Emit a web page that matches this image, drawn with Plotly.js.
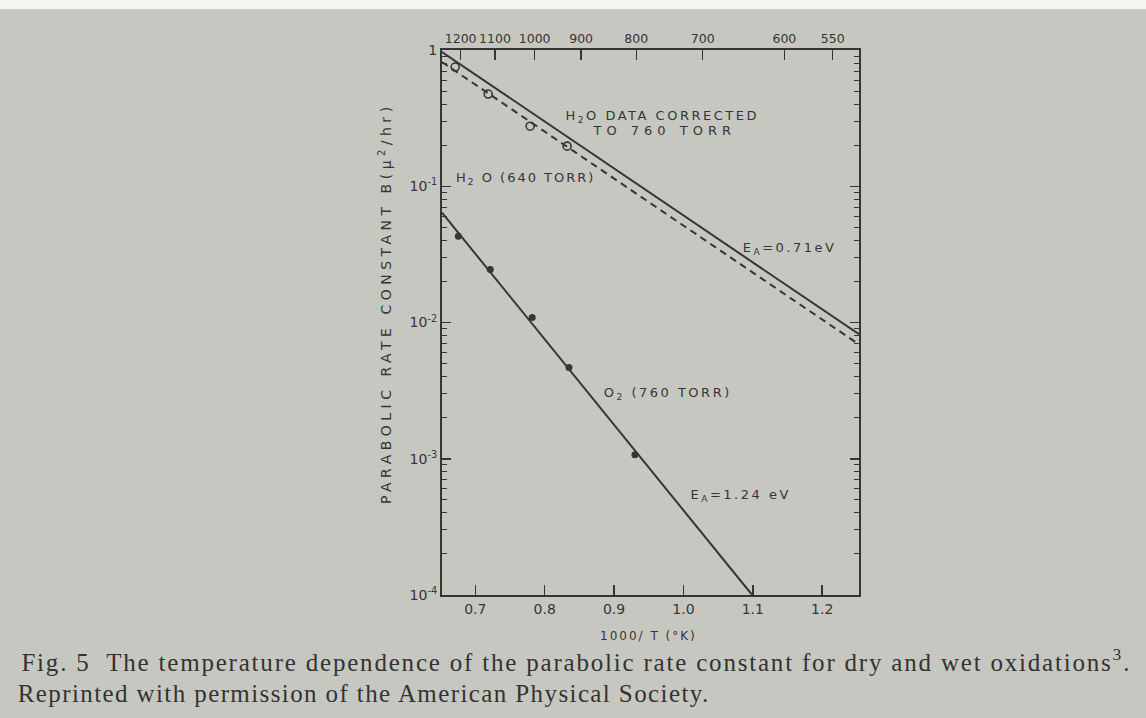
<!DOCTYPE html>
<html>
<head>
<meta charset="utf-8">
<script src="https://cdn.plot.ly/plotly-3.0.1.min.js"></script>
<style>
  html, body { margin: 0; padding: 0; background: #c7c7c1; }
  #chart { width: 1146px; height: 718px; }
  g.annotation text { letter-spacing: 2.5px; }
  g.annotation[data-index="1"] text { letter-spacing: 5px; }
  g.annotation[data-index="2"] text { letter-spacing: 2px; }
  g.annotation[data-index="6"] text { letter-spacing: 2px; }
  g.annotation[data-index="7"] text { letter-spacing: 4.5px; }
  g.annotation[data-index="8"] text { letter-spacing: 1.8px; }
  g.annotation[data-index="9"] text { letter-spacing: 1.4px; }
</style>
</head>
<body>
<div id="chart"></div>
<script>
// ---- data ----
// O2 (760 torr), dry oxidation: measured points
const o2X = [0.6755, 0.7215, 0.782, 0.835, 0.930];
const o2Y = [0.0429, 0.0245, 0.0109, 0.00467, 0.00107];
// O2 fitted line (Ea = 1.24 eV), ends
const o2FitX = [0.652, 1.099];
const o2FitY = [0.064, 0.0001];
// H2O (640 torr) measured points
const h2oX = [0.671, 0.7186, 0.779, 0.8323];
const h2oY = [0.75, 0.475, 0.276, 0.197];
// H2O (640 torr) fitted line (dashed)
const h2oFitX = [0.652, 1.253];
const h2oFitY = [0.816, 0.0069];
// H2O data corrected to 760 torr (solid, Ea = 0.71 eV)
const h2oCorrX = [0.652, 1.253];
const h2oCorrY = [0.967, 0.0082];
// axis ticks
const xTicks = [0.7, 0.8, 0.9, 1.0, 1.1, 1.2];
const xTickText = ['0.7', '0.8', '0.9', '1.0', '1.1', '1.2'];
const yTicks = [0.0001, 0.001, 0.01, 0.1, 1];
const yTickText = ['10<sup>-4</sup>', '10<sup>-3</sup>', '10<sup>-2</sup>', '10<sup>-1</sup>', '1'];
const topTempsC = [1200, 1100, 1000, 900, 800, 700, 600, 550];

const ink = '#353535';
const topTickVals = topTempsC.map(t => 1000 / (t + 273));
const topTickText = topTempsC.map(t => String(t));

// layout helpers (pixel -> paper)
const L = 442, R = 859, T = 50, B = 595;
const px = x => (x - L) / (R - L);
const py = y => (B - y) / (B - T);

const traces = [
  { x: h2oCorrX, y: h2oCorrY, mode: 'lines', line: { color: ink, width: 2 }, hoverinfo: 'skip' },
  { x: h2oFitX, y: h2oFitY, mode: 'lines', line: { color: ink, width: 2, dash: '7px,5px' }, hoverinfo: 'skip' },
  { x: h2oX, y: h2oY, mode: 'markers', marker: { symbol: 'circle-open', size: 8, color: ink, line: { width: 1.6, color: ink } } },
  { x: o2FitX, y: o2FitY, mode: 'lines', line: { color: ink, width: 2 }, hoverinfo: 'skip' },
  { x: o2X, y: o2Y, mode: 'markers', marker: { symbol: 'circle', size: 7, color: ink } },
  // invisible trace to activate top axis
  { x: [0.652, 1.253], y: [0.0001, 1], xaxis: 'x2', mode: 'markers', marker: { opacity: 0 }, hoverinfo: 'skip' }
];

const lblFont = { family: 'DejaVu Sans, sans-serif', size: 13, color: ink };
function ann(text, x, y, extra) {
  return Object.assign({ text: text, x: px(x), y: py(y), xref: 'paper', yref: 'paper',
    showarrow: false, font: lblFont, xanchor: 'center', yanchor: 'middle' }, extra || {});
}

const capFont = { family: 'Liberation Serif, serif', size: 25, color: '#333331' };
const annotations = [
  ann('H<sub>2</sub>O DATA CORRECTED', 662, 116),
  ann('TO 760 TORR', 664, 131),
  ann('H<sub>2</sub> O (640 TORR)', 525, 178),
  ann('E<sub>A</sub>=0.71eV', 789, 248),
  ann('O<sub>2</sub> (760 TORR)', 668, 393),
  ann('E<sub>A</sub>=1.24 eV', 740, 495),
  ann('1000/ T (°K)', 648, 636, { font: { family: 'DejaVu Sans, sans-serif', size: 12, color: ink } }),
  ann('PARABOLIC RATE CONSTANT B(μ<sup>2</sup>/hr)', 385, 303, { textangle: -90, font: { family: 'DejaVu Sans, sans-serif', size: 14, color: ink } }),
  ann('Fig. 5  The temperature dependence of the parabolic rate constant for dry and wet oxidations<sup>3</sup>.', 576, 660,
      { font: capFont }),
  ann('Reprinted with permission of the American Physical Society.', 363, 693,
      { font: capFont })
];

const layout = {
  width: 1146, height: 718,
  paper_bgcolor: '#c7c7c1', plot_bgcolor: '#c7c7c1',
  margin: { l: L, r: 1146 - R, t: T, b: 718 - B, pad: 0 },
  showlegend: false,
  xaxis: {
    range: [0.652, 1.253], tickvals: xTicks, ticktext: xTickText, tickangle: 0,
    ticks: 'inside', ticklen: 10, tickwidth: 1.5, tickcolor: ink,
    showline: true, linecolor: ink, linewidth: 2, showgrid: false, zeroline: false,
    tickfont: { family: 'DejaVu Sans, sans-serif', size: 14, color: ink },
    mirror: false
  },
  xaxis2: {
    overlaying: 'x', side: 'top', anchor: 'y', matches: 'x',
    tickvals: topTickVals, ticktext: topTickText, tickangle: 0,
    ticks: 'inside', ticklen: 10, tickwidth: 1.5, tickcolor: ink,
    showline: true, linecolor: ink, linewidth: 2, showgrid: false, zeroline: false,
    tickfont: { family: 'DejaVu Sans, sans-serif', size: 12.5, color: ink }
  },
  yaxis: {
    type: 'log', range: [-4, 0], tickvals: yTicks, ticktext: yTickText,
    ticks: 'inside', ticklen: 9, tickwidth: 1.5, tickcolor: ink,
    minor: { ticks: 'inside', ticklen: 5, tickwidth: 1, tickcolor: ink, dtick: 'D1', showgrid: false },
    showline: true, linecolor: ink, linewidth: 2, showgrid: false, zeroline: false,
    mirror: 'ticks',
    tickfont: { family: 'DejaVu Sans, sans-serif', size: 14, color: ink }
  },
  annotations: annotations,
  shapes: [
    { type: 'rect', xref: 'paper', yref: 'paper', x0: px(0), x1: px(1146), y0: py(0), y1: py(9),
      fillcolor: '#f4f4f2', line: { width: 0 }, layer: 'below' }
  ]
};

Plotly.newPlot('chart', traces, layout, { staticPlot: true, displayModeBar: false });
</script>
</body>
</html>
